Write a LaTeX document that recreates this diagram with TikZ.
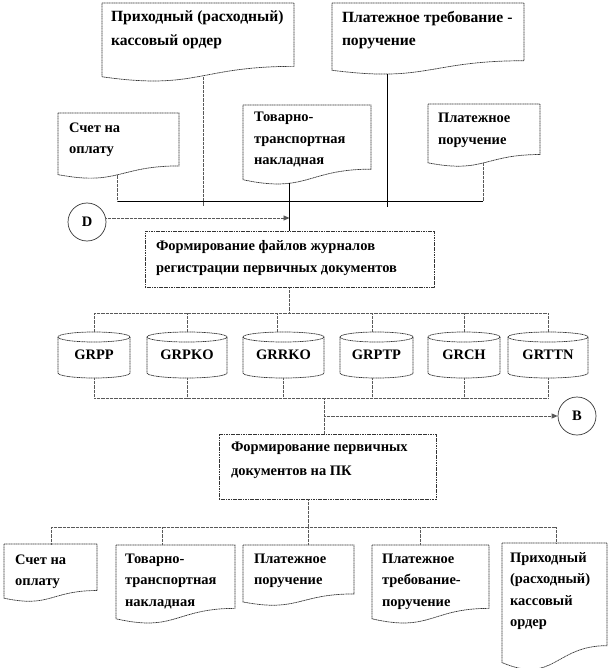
\documentclass[tikz,border=0pt]{standalone}
\usepackage{fontspec}
\setmainfont{Liberation Serif}
\usetikzlibrary{calc,arrows.meta}
\tikzset{
  lbl/.style={font=\fontsize{14.5}{21.5}\selectfont\bfseries},
  biglbl/.style={font=\fontsize{15.6}{23.5}\selectfont\bfseries},
  docarea/.style={rectangle, inner sep=0pt, outer sep=0pt},
  docline/.style={draw=black!80, line width=0.7pt, dash pattern=on 1.2pt off 0.5pt},
  doctext/.style={lbl, align=left, inner sep=0pt, outer sep=0pt, anchor=north west, execute at begin node=\strut},
  cylarea/.style={lbl, rectangle, inner sep=0pt, outer sep=0pt, minimum height=46pt},
  conn/.style={draw=black!65, line width=0.8pt, dash pattern=on 0.8pt off 0.5pt},
  solidconn/.style={draw=black, line width=0.8pt},
  tip/.style={-{Triangle[length=6pt,width=5pt]}},
  ring/.style={circle, draw=black!80, line width=0.7pt, minimum size=38pt, inner sep=0pt, lbl},
}
\newcommand{\docshape}[8]{%
  \node[docarea, anchor=north west, minimum width=#4pt, minimum height={0.933*#5pt}] (#1) at (#2,#3) {};
  \draw[docline] (#1.north west) -- (#1.north east)
    -- ($(#1.north west)+(#4,{0.802*#5})$)
    .. controls ($(#1.north west)+({0.5*#4},{0.802*#5})$) and ($(#1.north west)+({0.5*#4},{1.107*#5})$)
    .. ($(#1.north west)+(0,{0.934*#5})$) -- cycle;
  \node[doctext] (#1t) at (#6,#7) {#8};
}
\newcommand{\cyl}[4]{%
  \node[cylarea, minimum width=#3pt] (#1) at ({#2+#3/2},355) {#4};
  \draw[docline] ($(#1.north)+(0,5)$) ellipse [x radius={#3/2}, y radius=5];
  \draw[docline] ($(#1.north west)+(0,5)$) -- ($(#1.south west)+(0,-5)$)
    arc[start angle=180, end angle=0, x radius={#3/2}, y radius=5] -- ($(#1.north east)+(0,5)$);
}
\begin{document}
\begin{tikzpicture}[x=1pt,y=-1pt]
\useasboundingbox (0,0) rectangle (609,668);

% top documents
\begin{scope}[doctext/.append style={biglbl}]
\docshape{p1}{102}{3}{192}{79}{111}{11}{Приходный (расходный)\\кассовый ордер}
\docshape{p2}{332}{3}{192}{72}{342}{11}{Платежное требование -\\поручение}
\end{scope}
\docshape{s1}{58}{113}{121}{66}{69}{122.5}{Счет на\\оплату}
\docshape{t1}{243}{105}{128}{80}{254}{112.5}{Товарно-\\транспортная\\накладная}
\docshape{pp1}{428}{104}{112}{63}{438}{113.5}{Платежное\\поручение}

% process box 1
\node[docarea, draw=black!80, line width=0.7pt, dash pattern=on 1.2pt off 0.5pt, anchor=north west, minimum width=289pt, minimum height=56pt] (f1) at (145,231) {};
\node[doctext, font=\fontsize{14.5}{22.5}\selectfont\bfseries] (f1t) at (156,240) {Формирование файлов журналов\\регистрации первичных документов};

% circles
\node[ring] (D) at (87,222) {D};
\node[ring] (B) at (577,416) {B};

% top bus
\coordinate (bL) at (117,201);
\coordinate (bR) at (483,201);
\coordinate (p1e) at (203,206);
\coordinate (p2e) at (387,207);
\draw[solidconn] (bL) -- (bR);
\draw[conn] (bL |- s1.south) -- (bL);
\draw[conn] (p1e |- p1.south) -- (p1e);
\draw[solidconn] ($(p2e |- p2.south)+(0,4)$) -- (p2e);
\draw[conn] (bR |- pp1.south) -- (bR);
\draw[solidconn] ($(f1.north |- t1.south)+(0,3.5)$) -- (f1.north);
\draw[conn, tip] ($(D.east)+(0,-4)$) -- ($(D.east -| f1.north)+(0,-4)$);

% cylinders
\cyl{c1}{58}{72}{GRPP}
\cyl{c2}{147}{80}{GRPKO}
\cyl{c3}{243}{81}{GRRKO}
\cyl{c4}{340}{73}{GRPTP}
\cyl{c5}{428}{72}{GRCH}
\cyl{c6}{508}{80}{GRTTN}

\coordinate (ub) at (0,313);
\coordinate (lb) at (0,398);
\draw[conn] (f1.south) -- (f1.south |- ub);
\draw[conn] (c1.north |- ub) -- (c6.north |- ub);
\draw[conn] (c1.north) -- (c1.north |- ub);
\draw[conn] (c2.north) -- (c2.north |- ub);
\draw[conn] ([xshift=-6.5pt]c3.north) -- ([xshift=-6.5pt]c3.north |- ub);
\draw[conn] ([xshift=-4.5pt]c4.north) -- ([xshift=-4.5pt]c4.north |- ub);
\draw[conn] (c5.north) -- (c5.north |- ub);
\draw[conn] (c6.north) -- (c6.north |- ub);
\draw[conn] (c1.south |- lb) -- (c6.south |- lb);
\draw[conn] (c1.south) -- (c1.south |- lb);
\draw[conn] (c2.south) -- (c2.south |- lb);
\draw[conn] (c3.south) -- (c3.south |- lb);
\draw[conn] ([xshift=-4.5pt]c4.south) -- ([xshift=-4.5pt]c4.south |- lb);
\draw[conn] (c5.south) -- (c5.south |- lb);
\draw[conn] (c6.south) -- (c6.south |- lb);

% process box 2
\node[docarea, draw=black!80, line width=0.7pt, dash pattern=on 1.2pt off 0.5pt, anchor=north west, minimum width=217pt, minimum height=65pt] (f2) at (219,434) {};
\node[doctext, font=\fontsize{14.5}{24.5}\selectfont\bfseries] (f2t) at (231,442) {Формирование первичных\\документов  на ПК};

\coordinate (lm) at (324,398);
\draw[conn] (lm) -- (lm |- f2.north);
\draw[conn, tip] (lm |- B.west) -- (B.west);

% bottom documents
\docshape{d1}{4}{544}{93}{58}{15}{554.5}{Счет на\\оплату}
\docshape{d2}{116}{545}{119}{79}{125}{553.5}{Товарно-\\транспортная\\накладная}
\docshape{d3}{243}{545}{111}{61}{254}{553.5}{Платежное\\поручение}
\docshape{d4}{372}{545}{117}{79}{382}{553.5}{Платежное\\требование-\\поручение}
\docshape{d5}{502}{543}{105}{128}{510}{552.5}{Приходный\\(расходный)\\кассовый\\ордер}

\coordinate (k1) at (51,527);
\coordinate (k2) at (162,527);
\coordinate (k3) at (308,527);
\coordinate (k4) at (420,527);
\coordinate (k5) at (556,527);
\draw[conn] (k3 |- f2.south) -- (k3);
\draw[conn] (k1) -- (k5);
\draw[conn] (k1) -- (k1 |- d1.north);
\draw[conn] (k2) -- (k2 |- d2.north);
\draw[conn] (k3) -- (k3 |- d3.north);
\draw[conn] (k4) -- (k4 |- d4.north);
\draw[conn] (k5) -- (k5 |- d5.north);
\end{tikzpicture}
\end{document}
